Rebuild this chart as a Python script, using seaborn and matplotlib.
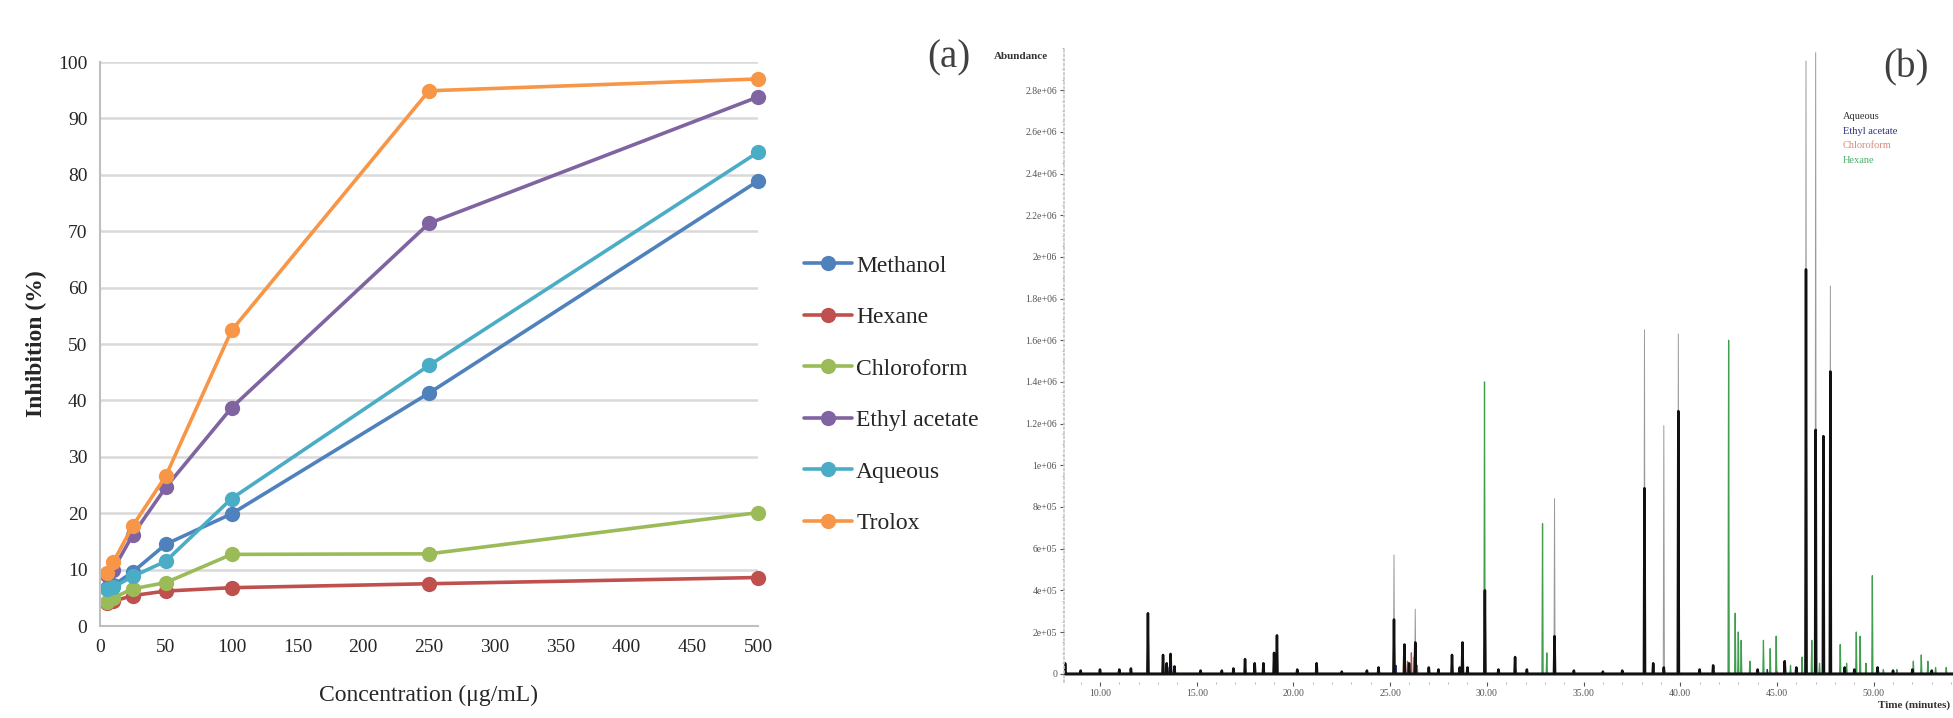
import numpy as np
import pandas as pd
import seaborn as sns
import matplotlib.pyplot as plt
from matplotlib.ticker import MultipleLocator, FuncFormatter

# ---- panel (a): DPPH inhibition ----
conc = [5, 10, 25, 50, 100, 250, 500]
methanol = [6.8, 7.2, 9.6, 14.5, 19.9, 41.3, 78.9]
hexane = [4.1, 4.4, 5.4, 6.2, 6.8, 7.5, 8.6]
chloroform = [4.2, 5.0, 6.6, 7.7, 12.7, 12.8, 20.1]
ethyl_acetate = [9.1, 10.0, 16.2, 24.6, 38.7, 71.4, 93.8]
aqueous = [6.5, 6.9, 8.8, 11.5, 22.6, 46.2, 84.0]
trolox = [9.4, 11.3, 17.8, 26.6, 52.4, 94.9, 97.0]
solvents = ["Methanol", "Hexane", "Chloroform", "Ethyl acetate", "Aqueous", "Trolox"]
excel_colors = ["#4F81BD", "#C0504D", "#9BBB59", "#8064A2", "#4BACC6", "#F79646"]

# ---- panel (b): chromatogram peaks (time in min, abundance) ----
aq_time = [8.2, 9.0, 10.0, 11.0, 11.6, 12.48, 13.26, 13.45, 13.65, 13.85, 15.2, 16.3,
           16.9, 17.5, 18.0, 18.45, 19.0, 19.15, 20.2, 21.2, 22.5, 23.8, 24.4, 25.2,
           25.74, 25.98, 26.3, 27.0, 27.5, 28.2, 28.6, 28.74, 29.0, 29.9, 30.6, 31.46,
           32.07, 33.5, 34.5, 36.0, 37.0, 38.15, 38.6, 39.15, 39.9, 41.0, 41.7, 44.0,
           45.4, 46.0, 46.5, 47.0, 47.4, 47.76, 48.5, 49.0, 50.2, 51.0, 52.0, 53.0]
aq_height = [0.5e5, 0.15e5, 0.2e5, 0.2e5, 0.25e5, 2.9e5, 0.9e5, 0.5e5, 0.95e5, 0.35e5, 0.15e5, 0.15e5,
             0.25e5, 0.7e5, 0.5e5, 0.5e5, 1.0e5, 1.84e5, 0.2e5, 0.5e5, 0.1e5, 0.15e5, 0.3e5, 5.7e5,
             1.4e5, 0.5e5, 3.1e5, 0.3e5, 0.2e5, 0.9e5, 0.3e5, 1.5e5, 0.3e5, 4.0e5, 0.2e5, 0.8e5,
             0.2e5, 8.4e5, 0.15e5, 0.1e5, 0.15e5, 1.65e6, 0.5e5, 1.19e6, 1.63e6, 0.2e5, 0.4e5, 0.2e5,
             0.6e5, 0.3e5, 2.94e6, 2.98e6, 1.14e6, 1.86e6, 0.3e5, 0.2e5, 0.3e5, 0.15e5, 0.2e5, 0.15e5]
aq_core = [0.5e5, 0.15e5, 0.2e5, 0.2e5, 0.25e5, 2.9e5, 0.9e5, 0.5e5, 0.95e5, 0.35e5, 0.15e5, 0.15e5,
           0.25e5, 0.7e5, 0.5e5, 0.5e5, 1.0e5, 1.84e5, 0.2e5, 0.5e5, 0.1e5, 0.15e5, 0.3e5, 2.6e5,
           1.4e5, 0.5e5, 1.5e5, 0.3e5, 0.2e5, 0.9e5, 0.3e5, 1.5e5, 0.3e5, 4.0e5, 0.2e5, 0.8e5,
           0.2e5, 1.8e5, 0.15e5, 0.1e5, 0.15e5, 8.9e5, 0.5e5, 0.3e5, 1.26e6, 0.2e5, 0.4e5, 0.2e5,
           0.6e5, 0.3e5, 1.94e6, 1.17e6, 1.14e6, 1.45e6, 0.3e5, 0.2e5, 0.3e5, 0.15e5, 0.2e5, 0.15e5]
hex_time = [25.2, 29.88, 32.88, 33.1, 42.5, 42.84, 43.0, 43.15, 43.6, 44.3, 44.65, 44.96,
            45.7, 46.3, 46.5, 46.8, 47.2, 48.27, 48.6, 49.1, 49.3, 49.6, 49.93, 50.5,
            51.2, 52.05, 52.46, 52.8, 53.2, 53.75]
hex_height = [0.8e5, 1.40e6, 7.2e5, 1.0e5, 1.6e6, 2.9e5, 2.0e5, 1.6e5, 0.6e5, 1.6e5, 1.2e5, 1.8e5,
              0.4e5, 0.8e5, 3.7e5, 1.6e5, 0.5e5, 1.4e5, 0.5e5, 2.0e5, 1.8e5, 0.5e5, 4.7e5, 0.2e5,
              0.2e5, 0.6e5, 0.9e5, 0.6e5, 0.3e5, 0.3e5]
chl_time = [25.9, 26.1, 26.25, 26.4, 45.0, 47.0]
chl_height = [0.6e5, 1.0e5, 0.8e5, 0.4e5, 0.1e5, 0.2e5]
ea_time = [13.5, 25.3, 33.5, 39.9, 44.5, 46.5]
ea_height = [0.3e5, 0.4e5, 0.3e5, 0.3e5, 0.2e5, 0.4e5]
t_start, t_end = 8.14, 54.1
y_ticks_b = np.arange(0, 2.8e6 + 1, 2e5)
x_ticks_b = np.arange(10, 51, 5)


def trace(times, heights, width=0.03):
    # baseline with narrow triangular spikes at every peak
    t, y = [t_start], [0.0]
    for ti, hi in sorted(zip(times, heights)):
        t += [ti - width, ti, ti + width]
        y += [0.0, hi, 0.0]
    t.append(t_end)
    y.append(0.0)
    return pd.DataFrame({"time": t, "abundance": y})


sns.set_theme(style="white")
plt.rcParams["font.family"] = ["Liberation Serif", "DejaVu Serif"]

fig = plt.figure(figsize=(19.53, 7.18), dpi=100)

# ---------------- (a) ----------------
ax = fig.add_axes([0.0512, 0.1281, 0.3369, 0.7855])
df = pd.DataFrame({
    "conc": conc * 6,
    "inhibition": methanol + hexane + chloroform + ethyl_acetate + aqueous + trolox,
    "solvent": sum([[s] * len(conc) for s in solvents], []),
})
sns.lineplot(data=df, x="conc", y="inhibition", hue="solvent", hue_order=solvents,
             palette=excel_colors, marker="o", markersize=11, markeredgewidth=0,
             linewidth=2.6, ax=ax, clip_on=False)
ax.set_xlim(0, 500)
ax.set_ylim(0, 100)
ax.set_xticks(np.arange(0, 501, 50))
ax.set_yticks(np.arange(0, 101, 10))
ax.yaxis.grid(True, color="#D9D9D9", linewidth=1.8)
ax.set_axisbelow(True)
for s in ["top", "right"]:
    ax.spines[s].set_visible(False)
for s in ["left", "bottom"]:
    ax.spines[s].set_color("#BFBFBF")
    ax.spines[s].set_linewidth(1.5)
ax.tick_params(labelsize=14, colors="#262626", length=0, pad=9)
ax.set_xlabel("Concentration (μg/mL)", fontsize=17, color="#262626", labelpad=21)
ax.set_ylabel("Inhibition (%)", fontsize=17, fontweight="bold", color="#262626", labelpad=8)
leg = ax.legend(loc="upper left", bbox_to_anchor=(0.407, 0.658), bbox_transform=fig.transFigure,
                frameon=False, fontsize=17, handlelength=2.0, handletextpad=0.2,
                labelspacing=1.27, borderaxespad=0)
fig.text(0.486, 0.92, "(a)", fontsize=28, color="#404040", ha="center", va="center")

# ---------------- (b) ----------------
ax2 = fig.add_axes([0.5448, 0.0501, 0.4552, 0.8824])
sns.lineplot(data=trace(hex_time, hex_height), x="time", y="abundance", estimator=None,
             sort=False, color="#3f9f4f", linewidth=0.9, ax=ax2)
sns.lineplot(data=trace(chl_time, chl_height), x="time", y="abundance", estimator=None,
             sort=False, color="#c0504d", linewidth=0.9, ax=ax2)
sns.lineplot(data=trace(ea_time, ea_height), x="time", y="abundance", estimator=None,
             sort=False, color="#2a2f7a", linewidth=0.9, ax=ax2)
sns.lineplot(data=trace(aq_time, aq_height), x="time", y="abundance", estimator=None,
             sort=False, color="#9a9a9a", linewidth=0.7, ax=ax2)
sns.lineplot(data=trace(aq_time, aq_core), x="time", y="abundance", estimator=None,
             sort=False, color="#111111", linewidth=1.8, ax=ax2)
ax2.axhline(0, color="#6b6b3a", linewidth=1.8, zorder=1)
ax2.set_xlim(t_start, t_end)
ax2.set_ylim(-0.4e5, 3.0e6)
ax2.set_yticks(y_ticks_b)
ax2.set_xticks(x_ticks_b)
ax2.yaxis.set_minor_locator(MultipleLocator(5e4))
ax2.xaxis.set_minor_locator(MultipleLocator(1))


def sci(v, pos):
    if v == 0:
        return "0"
    return "{:.1e}".format(v).replace(".0e", "e")


ax2.yaxis.set_major_formatter(FuncFormatter(sci))
ax2.xaxis.set_major_formatter(FuncFormatter(lambda v, p: "{:.2f}".format(v)))
for s in ["top", "right", "bottom"]:
    ax2.spines[s].set_visible(False)
ax2.spines["left"].set_color("#c8c8c8")
ax2.spines["left"].set_linestyle(":")
ax2.tick_params(axis="both", which="major", labelsize=7, colors="#555555", length=3, width=0.8,
                direction="out", pad=2, left=True, bottom=True)
ax2.tick_params(axis="both", which="minor", length=1.5, width=0.6, colors="#aaaaaa",
                left=True, bottom=True)
ax2.set_xlabel("")
ax2.set_ylabel("")
fig.text(0.509, 0.922, "Abundance", fontsize=8, fontweight="bold", color="#333333",
         ha="left", va="center")
fig.text(0.9985, 0.018, "Time (minutes)", fontsize=8, fontweight="bold", color="#333333",
         ha="right", va="center")
fig.text(0.976, 0.905, "(b)", fontsize=28, color="#404040", ha="center", va="center")
legend_b = [("Aqueous", "#333333"), ("Ethyl acetate", "#2a2f7a"),
            ("Chloroform", "#d98880"), ("Hexane", "#4fae6a")]
for i, (name, col) in enumerate(legend_b):
    fig.text(0.9435, 0.838 - i * 0.0205, name, fontsize=7.5, color=col, ha="left", va="center")

fig.savefig("out.png", dpi=100)
